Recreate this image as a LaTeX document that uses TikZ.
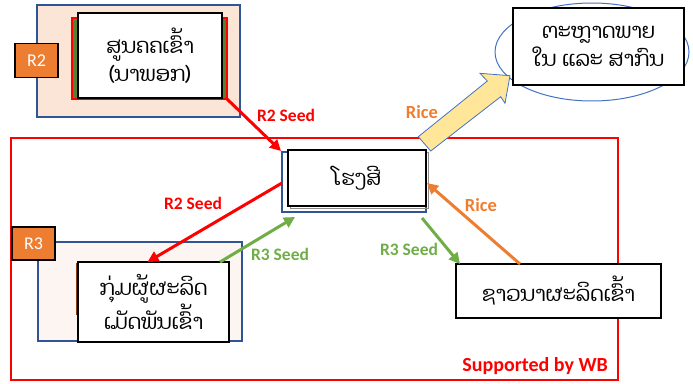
\documentclass[tikz,border=0pt]{standalone}
\usepackage{fontspec}
\setmainfont{Carlito}
\newfontfamily\laofont[Script=Lao]{Dhyana}
\usetikzlibrary{arrows.meta,shapes.geometric}

\definecolor{wbred}{RGB}{255,0,0}
\definecolor{seedgreen}{RGB}{112,173,71}
\definecolor{riceorange}{RGB}{237,125,49}
\definecolor{frameblue}{RGB}{47,85,151}
\definecolor{peach}{RGB}{251,229,214}
\definecolor{palepink}{RGB}{253,245,242}
\definecolor{darkgreen}{RGB}{84,130,53}
\definecolor{brown}{RGB}{132,60,12}
\definecolor{paleyellow}{RGB}{255,230,153}
\definecolor{ovalblue}{RGB}{68,114,196}

\tikzset{
  box/.style={draw=black, line width=1.3pt, fill=white, inner sep=0pt, outer sep=0pt,
    align=center, font=\laofont\fontsize{21}{28}\selectfont},
  panel/.style={draw=frameblue, line width=1.8pt, inner sep=0pt, outer sep=0pt},
  tag/.style={draw=black, line width=1.6pt, fill=riceorange, text=white, inner sep=0pt,
    outer sep=0pt, minimum width=43pt, minimum height=34pt, font=\fontsize{18}{20}\selectfont},
  lbl/.style={inner sep=0pt, font=\bfseries\fontsize{17.5}{20}\selectfont},
  flow/.style={line width=3pt, -{Triangle[length=11pt,width=11pt]}},
}

\begin{document}
\begin{tikzpicture}[x=1pt,y=-1pt]
\useasboundingbox (0,0) rectangle (693,383);

% ---- R2: seed research centre ----
\node[panel, fill=peach, minimum width=203pt, minimum height=112pt] (r2panel) at (138.5,61) {};
\node[draw=wbred, line width=2.6pt, fill=darkgreen, inner sep=0pt, outer sep=0pt,
      minimum width=155pt, minimum height=81pt] (r2red) at (149.5,58.5) {};
\node[box, minimum width=144pt, minimum height=85pt] (centre) at (150,55.5)
  {ສູນຄຄເຂົ້າ\\(ນາພອກ)};
\node[tag] (r2tag) at (36.5,60.5) {R2};

% ---- markets ----
\node[draw=ovalblue, line width=1pt, ellipse, minimum width=194pt, minimum height=98pt,
      inner sep=0pt] (oval) at (592,52) {};
\node[box, minimum width=171pt, minimum height=77pt] (market) at (598.5,46.5)
  {ຕະຫຼາດພາຍ\\ໃນ ແລະ ສາກົນ};

% ---- project frame ----
\node[draw=wbred, line width=2.4pt, inner sep=0pt, outer sep=0pt,
      minimum width=607pt, minimum height=242pt] (frame) at (314.5,259) {};
\node[lbl, text=wbred, anchor=east, font=\bfseries\fontsize{20}{22}\selectfont] (wb) at (608,366) {Supported by WB};

% ---- rice mill ----
\node[panel, fill=white, minimum width=144pt, minimum height=60pt] (millback) at (354,182) {};
\node[draw=black!45, line width=0.8pt, inner sep=0pt, minimum width=138pt,
      minimum height=56pt] (millshadow) at (359,180.5) {};
\node[box, minimum width=138pt, minimum height=56pt] (mill) at (357,178) {ໂຮງສີ};

% ---- R3: seed producer group ----
\node[panel, fill=palepink, minimum width=204pt, minimum height=99pt] (r3panel) at (140,291.5) {};
\node[fill=brown, inner sep=0pt, minimum width=5pt, minimum height=52pt] (r3strip) at (78.5,289) {};
\node[box, minimum width=151pt, minimum height=80pt] (seed) at (153.5,302)
  {ກຸ່ມຜູ້ຜະລິດ\\ເມັດພັນເຂົ້າ};
\node[tag, minimum height=33pt] (r3tag) at (33.5,243.5) {R3};

% ---- farmers ----
\node[box, minimum width=205pt, minimum height=54pt] (farmers) at (558.5,291) {ຊາວນາຜະລິດເຂົ້າ};

% ---- flows ----
\draw[flow, wbred] (r2red.south east) -- ([shift={(-1pt,1pt)}]millback.north west);
\draw[flow, wbred] ([yshift=-1pt]millback.west) -- ([xshift=-6pt]seed.north);
\draw[flow, seedgreen] ([xshift=-9pt]seed.north east) -- ([shift={(13pt,-5pt)}]millback.south west);
\draw[flow, seedgreen] ([shift={(-4pt,-6pt)}]millback.south east) -- ([xshift=4pt]farmers.north west);
\draw[flow, riceorange] ([xshift=64pt]farmers.north west) -- ([shift={(1pt,-5pt)}]mill.east);

\node[lbl, text=wbred] (lr2a) at (286,115) {R2 Seed};
\node[lbl, text=wbred] (lr2b) at (193,203) {R2 Seed};
\node[lbl, text=seedgreen] (lr3a) at (280,254) {R3 Seed};
\node[lbl, text=seedgreen] (lr3b) at (409,249) {R3 Seed};
\node[lbl, text=riceorange, font=\bfseries\fontsize{18.5}{20}\selectfont] (lrice) at (481,205) {Rice};
\node[lbl, text=riceorange, font=\bfseries\fontsize{18.5}{20}\selectfont] (lricetop) at (422,112) {Rice};

% ---- block arrow towards the markets ----
\draw[draw=ovalblue, line width=0.8pt, fill=paleyellow, line join=miter]
  (418.3,136.7) -- (487.3,81) -- (480,73.3) -- (510,75.7) -- (505,103.3)
  -- (500.7,96.7) -- (430.7,151) -- cycle;
\end{tikzpicture}
\end{document}
